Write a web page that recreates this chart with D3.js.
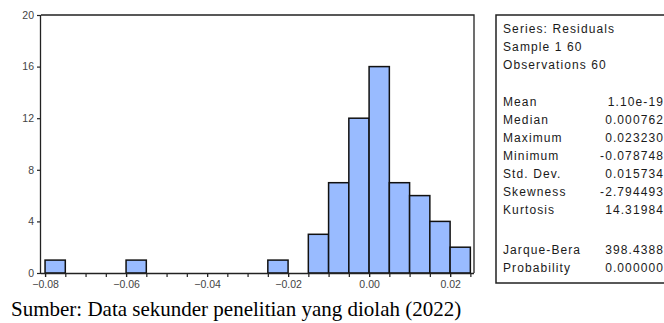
<!DOCTYPE html>
<html><head><meta charset="utf-8">
<script src="https://cdn.jsdelivr.net/npm/d3@7"></script>
<style>body{margin:0;background:#fff;}svg{display:block;}</style>
</head><body>
<script>
// Histogram bins (lower edges) and counts
const binStarts = [-0.080, -0.060, -0.025, -0.015, -0.010, -0.005, 0.000, 0.005, 0.010, 0.015, 0.020];
const binCounts = [1, 1, 1, 3, 7, 12, 16, 7, 6, 4, 2];
const binWidth = 0.005;
const yTicks = [0, 4, 8, 12, 16, 20];
const xMajorTicks = [-0.08, -0.06, -0.04, -0.02, 0.00, 0.02];
const statsHeader = ["Series: Residuals", "Sample 1 60", "Observations 60"];
const statsNames = ["Mean", "Median", "Maximum", "Minimum", "Std. Dev.", "Skewness", "Kurtosis"];
const statsValues = ["1.10e-19", "0.000762", "0.023230", "-0.078748", "0.015734", "-2.794493", "14.31984"];
const testNames = ["Jarque-Bera", "Probability"];
const testValues = ["398.4388", "0.000000"];
const caption = "Sumber: Data sekunder penelitian yang diolah (2022)";

const W = 664, H = 323;
const svg = d3.select("body").append("svg").attr("width", W).attr("height", H);

const plot = {left: 41, right: 474, top: 15, bottom: 273};
const x = d3.scaleLinear().domain([-0.081, 0.0259]).range([plot.left, plot.right]);
const y = d3.scaleLinear().domain([0, 20]).range([plot.bottom, plot.top]);

// bars
svg.append("g").selectAll("rect").data(binStarts).join("rect")
  .attr("x", (d) => x(d))
  .attr("width", (d) => x(d + binWidth) - x(d))
  .attr("y", (d, i) => y(binCounts[i]))
  .attr("height", (d, i) => y(0) - y(binCounts[i]))
  .attr("fill", "#99bbff").attr("stroke", "#111").attr("stroke-width", 1.5);

// frame top & right
svg.append("path")
  .attr("d", `M${plot.left},${plot.top}H${plot.right}V${plot.bottom}`)
  .attr("fill", "none").attr("stroke", "#222").attr("stroke-width", 1.3);

// y axis
const yAxis = d3.axisLeft(y).tickValues(yTicks).tickSize(4).tickPadding(3).tickFormat(d3.format("d"));
const gy = svg.append("g").attr("transform", `translate(${plot.left},0)`).call(yAxis);
// x axis with minor ticks
const minor = d3.range(-0.08, 0.0251, 0.005);
const xAxisMinor = d3.axisBottom(x).tickValues(minor).tickSize(4).tickFormat("");
svg.append("g").attr("transform", `translate(0,${plot.bottom})`).call(xAxisMinor)
  .call(g => g.select(".domain").remove());
const xAxis = d3.axisBottom(x).tickValues(xMajorTicks).tickSize(4).tickPadding(4).tickFormat(d3.format(".2f"));
const gx = svg.append("g").attr("transform", `translate(0,${plot.bottom})`).call(xAxis);
gx.select(".domain").attr("d", `M${plot.left},0.5H${plot.right}`);
gy.select(".domain").attr("d", `M-0.5,${plot.bottom}V${plot.top}`);

svg.selectAll(".domain").attr("stroke", "#222").attr("stroke-width", 1.3);
svg.selectAll(".tick line").attr("stroke", "#222").attr("stroke-width", 1.2);
svg.selectAll(".tick text").attr("font-family", "Liberation Sans, Arial, sans-serif")
  .attr("font-size", 10.5).attr("fill", "#444");

// stats box
const box = svg.append("g");
box.append("rect").attr("x", 496).attr("y", 15).attr("width", 200).attr("height", 268)
  .attr("fill", "#fff").attr("stroke", "#222").attr("stroke-width", 1.5);
const tf = "Liberation Sans, Arial, sans-serif";
const rowStep = 18;
function txt(t, xx, yy, anchor) {
  box.append("text").attr("x", xx).attr("y", yy).attr("text-anchor", anchor || "start")
    .attr("font-family", tf).attr("font-size", 12).attr("letter-spacing", 1.1)
    .attr("fill", "#1a1a1a").text(t);
}
statsHeader.forEach((t, i) => txt(t, 503, 33 + i * rowStep));
statsNames.forEach((t, i) => { txt(t, 503, 106 + i * rowStep); txt(statsValues[i], 664, 106 + i * rowStep, "end"); });
testNames.forEach((t, i) => { txt(t, 503, 254 + i * rowStep); txt(testValues[i], 664, 254 + i * rowStep, "end"); });

// caption
svg.append("text").attr("x", 11).attr("y", 316)
  .attr("font-family", "Liberation Serif, Times New Roman, serif").attr("font-size", 21)
  .attr("fill", "#000").text(caption);
</script>
</body></html>
